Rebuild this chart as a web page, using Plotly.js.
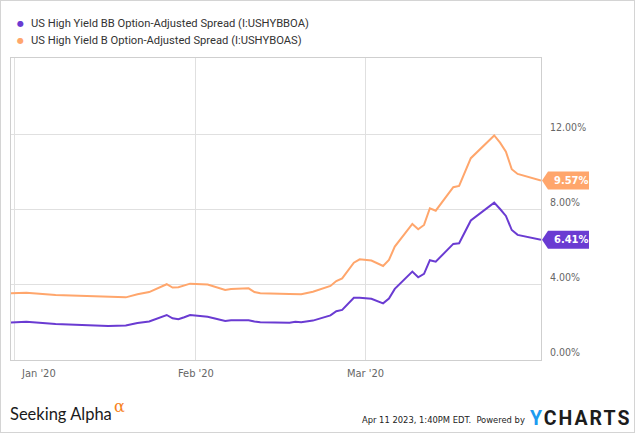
<!DOCTYPE html>
<html>
<head>
<meta charset="utf-8">
<script src="https://cdn.plot.ly/plotly-3.0.1.min.js"></script>
<style>
  html, body { margin: 0; padding: 0; background: #fff; }
  #chart { width: 633px; height: 431px; border: 1px solid #d4d4d4; }
</style>
</head>
<body>
<div id="chart"></div>
<script>
// ---- data ----
const dates = [
  '2019-12-31','2020-01-03','2020-01-08','2020-01-13','2020-01-17','2020-01-20',
  '2020-01-22','2020-01-24','2020-01-27','2020-01-28','2020-01-29','2020-01-30',
  '2020-01-31','2020-02-03','2020-02-06','2020-02-07','2020-02-10','2020-02-11',
  '2020-02-12','2020-02-17','2020-02-18','2020-02-19','2020-02-21','2020-02-24',
  '2020-02-25','2020-02-26','2020-02-28','2020-02-29','2020-03-02','2020-03-04',
  '2020-03-05','2020-03-06','2020-03-09','2020-03-10','2020-03-11','2020-03-12',
  '2020-03-13','2020-03-16','2020-03-17','2020-03-19','2020-03-23','2020-03-24',
  '2020-03-25','2020-03-26','2020-03-27','2020-03-31'
];
const bbSpread = [
  1.99, 2.04, 1.92, 1.88, 1.81, 1.84,
  1.97, 2.05, 2.40, 2.22, 2.17, 2.28,
  2.40, 2.31, 2.08, 2.12, 2.12, 2.05,
  2.01, 1.99, 2.04, 2.01, 2.10, 2.38,
  2.60, 2.67, 3.32, 3.32, 3.26, 3.02,
  3.28, 3.79, 4.71, 4.41, 4.59, 5.32,
  5.24, 6.19, 6.22, 7.44, 8.39, 8.05,
  7.68, 6.93, 6.67, 6.41
];
const bSpread = [
  3.56, 3.59, 3.47, 3.41, 3.34, 3.34,
  3.50, 3.62, 4.04, 3.86, 3.88, 3.97,
  4.07, 4.02, 3.73, 3.78, 3.82, 3.62,
  3.56, 3.52, 3.51, 3.50, 3.64, 3.95,
  4.21, 4.35, 5.19, 5.37, 5.30, 5.01,
  5.33, 6.05, 7.25, 6.97, 7.20, 8.09,
  7.96, 9.21, 9.28, 10.76, 11.97, 11.59,
  11.11, 10.17, 9.92, 9.57
];
const seriesNames = [
  'US High Yield BB Option-Adjusted Spread (I:USHYBBOA)',
  'US High Yield B Option-Adjusted Spread (I:USHYBOAS)'
];
const seriesColors = ['#6a3bd2', '#ffa66c'];
const xTickVals = ['2020-01-01', '2020-02-01', '2020-03-01'];
const xTickText = ["Jan '20", "Feb '20", "Mar '20"];
const yTickVals = [0, 4, 8, 12];
const yTickText = ['0.00%', '4.00%', '8.00%', '12.00%'];

// ---- chart ----
const narrow = '"DejaVu Sans Condensed", "Roboto Condensed", "Liberation Sans Narrow", sans-serif';
const allSeries = [bbSpread, bSpread];

const traces = allSeries.map((vals, i) => ({
  type: 'scatter', mode: 'lines', x: dates, y: vals, name: seriesNames[i],
  line: { color: seriesColors[i], width: 2 }, hoverinfo: 'skip', showlegend: false
}));

const annotations = [];
const shapes = [];

// legend
seriesNames.forEach((nm, i) => {
  const ys = 34.7 - i * 17.4;
  annotations.push({
    xref: 'paper', yref: 'paper', x: 0, y: 1, xanchor: 'center', yanchor: 'middle',
    xshift: 9.5, yshift: ys, showarrow: false, text: '●',
    font: { family: 'DejaVu Sans', size: 8, color: seriesColors[i] }
  });
  annotations.push({
    xref: 'paper', yref: 'paper', x: 0, y: 1, xanchor: 'left', yanchor: 'middle',
    xshift: 18, yshift: ys, showarrow: false, text: nm,
    font: { family: 'Roboto', size: 11.2, color: '#333' }
  });
});

// x tick labels
xTickVals.forEach((v, i) => {
  annotations.push({
    xref: 'x', yref: 'paper', x: v, y: 0, xanchor: i === 0 ? 'left' : 'center',
    xshift: i === 0 ? 4 : 0, yanchor: 'top', yshift: -5, showarrow: false,
    text: xTickText[i], font: { family: narrow, size: 11, color: '#666' }
  });
});

// end-value tags
allSeries.forEach((vals, i) => {
  const last = vals[vals.length - 1];
  shapes.push({
    type: 'path', xref: 'paper', yref: 'y', xsizemode: 'pixel', ysizemode: 'pixel',
    xanchor: 1, yanchor: last, path: 'M 1 0 L 7 9 L 48 9 L 48 -9 L 7 -9 Z',
    fillcolor: seriesColors[i], line: { width: 0 }, layer: 'above'
  });
  annotations.push({
    xref: 'x', yref: 'y', x: dates[dates.length - 1], y: last, xanchor: 'left',
    yanchor: 'middle', xshift: 11, showarrow: false, text: '<b>' + last.toFixed(2) + '%</b>',
    font: { family: narrow, size: 11, color: '#ffffff' }
  });
});

// footer
annotations.push({
  xref: 'paper', yref: 'paper', x: 0, y: 0, xanchor: 'left', yanchor: 'middle',
  xshift: -3, yshift: -54, showarrow: false, text: 'Seeking Alpha',
  font: { family: 'Lato', size: 16.5, color: '#1a1a1a' }
});
annotations.push({
  xref: 'paper', yref: 'paper', x: 0, y: 0, xanchor: 'left', yanchor: 'middle',
  xshift: 101, yshift: -46, showarrow: false, text: 'α',
  font: { family: 'DejaVu Serif', size: 16, color: '#f7821e' }
});
annotations.push({
  xref: 'paper', yref: 'paper', x: 1, y: 0, xanchor: 'right', yanchor: 'middle',
  xshift: -14, yshift: -59, showarrow: false, text: 'Apr 11 2023, 1:40PM EDT.  Powered by',
  font: { family: narrow, size: 9.3, color: '#222' }
});
annotations.push({
  xref: 'paper', yref: 'paper', x: 1, y: 0, xanchor: 'left', yanchor: 'middle',
  xshift: -13, yshift: -58, showarrow: false,
  text: '<b><span style="color:#1d9bf0;letter-spacing:2px">Y</span><span style="letter-spacing:2px">CHARTS</span></b>',
  font: { family: 'Roboto', size: 19.5, color: '#1c1c1c' }
});

const layout = {
  width: 633, height: 431,
  margin: { l: 10, r: 93, t: 57, b: 72, pad: 0 },
  paper_bgcolor: '#ffffff', plot_bgcolor: '#ffffff',
  showlegend: false,
  xaxis: {
    type: 'date', range: ['2019-12-31 09:00', '2020-03-31'],
    tickvals: xTickVals, showticklabels: false, ticks: '',
    showgrid: true, gridcolor: '#e0e0e0', gridwidth: 1,
    showline: true, mirror: true, linecolor: '#cfcfcf', linewidth: 1,
    zeroline: false, fixedrange: true
  },
  yaxis: {
    side: 'right', range: [0, 16.1], tickvals: yTickVals, ticktext: yTickText,
    ticks: '', ticklabelposition: 'outside top', ticklabelstandoff: 6,
    tickfont: { family: narrow, size: 10.5, color: '#666' },
    showgrid: true, gridcolor: '#e0e0e0', gridwidth: 1,
    showline: true, mirror: true, linecolor: '#cfcfcf', linewidth: 1,
    zeroline: false, fixedrange: true
  },
  annotations: annotations,
  shapes: shapes
};

Plotly.newPlot('chart', traces, layout, { displayModeBar: false, staticPlot: true });
</script>
</body>
</html>
